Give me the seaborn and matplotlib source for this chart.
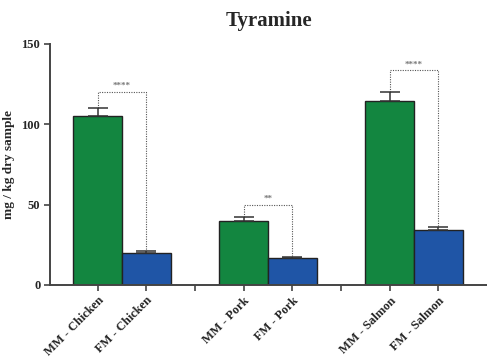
import matplotlib
matplotlib.use("Agg")
import matplotlib.pyplot as plt
import seaborn as sns
import pandas as pd

# Tyramine content per sample (mg / kg dry sample)
samples = ["MM - Chicken", "FM - Chicken", "MM - Pork", "FM - Pork", "MM - Salmon", "FM - Salmon"]
groups = ["MM", "FM", "MM", "FM", "MM", "FM"]
means = [105, 20, 40, 16.5, 114.5, 34]
errors = [5.2, 1.2, 2.6, 0.9, 5.8, 1.9]

# Category slots: two spacer slots separate the meat types
order = ["MM - Chicken", "FM - Chicken", "_gap1", "MM - Pork", "FM - Pork", "_gap2",
         "MM - Salmon", "FM - Salmon"]

# Significance brackets: (left sample, right sample, bracket height, stars)
brackets = [("MM - Chicken", "FM - Chicken", 120, "****"),
            ("MM - Pork", "FM - Pork", 50, "**"),
            ("MM - Salmon", "FM - Salmon", 133.5, "****")]

palette = {"MM": "#138640", "FM": "#1f55a6"}

df = pd.DataFrame({"sample": samples, "group": groups, "value": means})

sns.set_style("ticks")
plt.rcParams["font.family"] = ["Liberation Serif", "DejaVu Serif"]
plt.rcParams["font.weight"] = "bold"

fig = plt.figure(figsize=(4.87, 3.57), dpi=100)
ax = fig.add_axes([0.1027, 0.2017, 0.8973, 0.6751])

sns.barplot(data=df, x="sample", y="value", hue="group", order=order,
            palette=palette, saturation=1, dodge=False, width=1.0, errorbar=None,
            edgecolor="#222222", linewidth=1.0, legend=False, ax=ax)

pos = {name: i for i, name in enumerate(order)}
xs = [pos[s] for s in samples]

# Upper error bars only
ax.errorbar(xs, means, yerr=[[0] * len(errors), errors], fmt="none",
            ecolor="#333333", elinewidth=1.1, capsize=7.5, capthick=1.1, zorder=5)

top_of = {s: m + e for s, m, e in zip(samples, means, errors)}
for left, right, h, stars in brackets:
    x0, x1 = pos[left], pos[right]
    ax.plot([x0, x0, x1, x1], [top_of[left], h, h, top_of[right]],
            linestyle=(0, (1, 1.2)), color="#555555", linewidth=0.8, zorder=4)
    ax.text((x0 + x1) / 2, h + 1.2, stars, ha="center", va="bottom",
            fontsize=6.5, color="#777777", fontweight="bold")

ax.set_xlim(-0.98, 8.0)
ax.set_ylim(0, 150)
ax.set_yticks([0, 50, 100, 150])
ax.set_yticklabels(["0", "50", "100", "150"], fontsize=9, fontweight="bold")
ax.set_xticks(range(len(order)))
ax.set_xticklabels([s if not s.startswith("_") else "" for s in order],
                   rotation=45, ha="right", rotation_mode="anchor",
                   fontsize=9, fontweight="bold")
ax.set_xlabel("")
ax.set_ylabel("mg / kg dry sample", fontsize=9.5, fontweight="bold", labelpad=5)
ax.set_title("Tyramine", fontsize=15, fontweight="bold", pad=13)

for side in ["top", "right"]:
    ax.spines[side].set_visible(False)
for side in ["left", "bottom"]:
    ax.spines[side].set_color("#444444")
    ax.spines[side].set_linewidth(1.4)
ax.tick_params(axis="both", length=4, width=1.2, color="#444444", pad=3)

fig.savefig("out.png", dpi=100)
